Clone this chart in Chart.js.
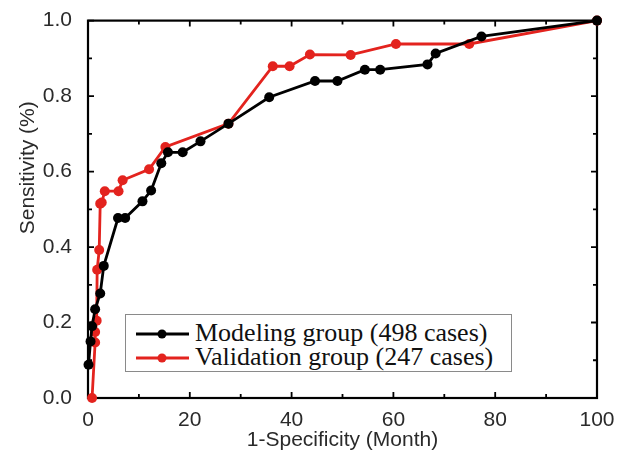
<!DOCTYPE html>
<html>
<head>
<meta charset="utf-8">
<script src="https://cdn.jsdelivr.net/npm/chart.js@4"></script>
<style>
    html, body { margin: 0; padding: 0; background: #fff; }
    #wrap { position: relative; width: 624px; height: 453px; }
    #legend {
        position: absolute; left: 125px; top: 314px; width: 387px; height: 58px;
        border: 1px solid #8a8a8a; background: #fff; box-sizing: border-box;
        font-family: "Liberation Serif", "Times New Roman", serif; font-size: 26px; color: #111;
    }
    .row { position: absolute; left: 0; height: 24px; line-height: 24px; white-space: nowrap; }
    .row svg { position: absolute; left: 10px; top: 6px; }
    .row span { position: absolute; left: 69px; top: -1px; }
</style>
</head>
<body>
<div id="wrap">
    <canvas id="chart" width="624" height="453"></canvas>
    <div id="legend">
        <div class="row" style="top:7px">
            <svg width="54" height="12"><line x1="0" y1="6" x2="53" y2="6" stroke="#000" stroke-width="2.8"/><circle cx="26" cy="6" r="4.5" fill="#000"/></svg>
            <span>Modeling group (498 cases)</span>
        </div>
        <div class="row" style="top:31px">
            <svg width="54" height="12"><line x1="0" y1="6" x2="53" y2="6" stroke="#e3231e" stroke-width="2.8"/><circle cx="26" cy="6" r="4.5" fill="#e3231e"/></svg>
            <span>Validation group (247 cases)</span>
        </div>
    </div>
</div>
<script>
// ── Datos ─────────────────────────────────────────────────
const modelingX = [0.1, 0.5, 0.8, 1.4, 2.4, 3.1, 5.9, 7.3, 10.7, 12.4, 14.4, 15.7, 18.6, 22.1, 27.6, 35.6, 44.6, 49.0, 54.4, 57.4, 66.7, 68.3, 77.3, 100];
const modelingY = [0.088, 0.15, 0.19, 0.235, 0.277, 0.35, 0.477, 0.477, 0.521, 0.55, 0.622, 0.651, 0.651, 0.68, 0.727, 0.797, 0.84, 0.84, 0.87, 0.87, 0.884, 0.913, 0.958, 1.0];

const validationX = [0.8, 1.4, 1.4, 1.7, 1.8, 2.2, 2.4, 2.7, 3.3, 6.0, 6.8, 12.0, 15.2, 27.6, 36.3, 39.6, 43.6, 51.6, 60.5, 74.9, 100];
const validationY = [0, 0.147, 0.175, 0.205, 0.34, 0.392, 0.515, 0.518, 0.548, 0.548, 0.577, 0.606, 0.665, 0.727, 0.879, 0.879, 0.91, 0.909, 0.938, 0.938, 1.0];

const xTicks = [0, 20, 40, 60, 80, 100];
const yTicks = [0, 0.2, 0.4, 0.6, 0.8, 1.0];

const toPoints = (xs, ys) => xs.map((x, i) => ({ x, y: ys[i] }));

const RED = "#e3231e";
const TEXT = "#2a2a2a";
const tickFont = { family: "Liberation Sans, Arial, sans-serif", size: 21 };

// marco y marcas interiores + título del eje Y (algo desplazado hacia arriba)
const framePlugin = {
    id: "frame",
    beforeDatasetsDraw(chart) {
        const { ctx, chartArea: a, scales } = chart;
        ctx.save();
        ctx.strokeStyle = "#000";
        ctx.lineWidth = 2.2;
        ctx.strokeRect(a.left, a.top, a.right - a.left, a.bottom - a.top);
        ctx.lineWidth = 1.8;
        ctx.beginPath();
        for (let v = 0; v <= 100; v += 10) {
            const px = scales.x.getPixelForValue(v);
            const len = v % 20 === 0 ? 6 : 4;
            ctx.moveTo(px, a.bottom); ctx.lineTo(px, a.bottom - len);
            ctx.moveTo(px, a.top); ctx.lineTo(px, a.top + len);
        }
        for (let i = 0; i <= 10; i++) {
            const py = scales.y.getPixelForValue(i / 10);
            const len = i % 2 === 0 ? 6 : 4;
            ctx.moveTo(a.left, py); ctx.lineTo(a.left + len, py);
            ctx.moveTo(a.right, py); ctx.lineTo(a.right - len, py);
        }
        ctx.stroke();

        ctx.translate(28, scales.y.getPixelForValue(0.61));
        ctx.rotate(-Math.PI / 2);
        ctx.fillStyle = TEXT;
        ctx.font = `${tickFont.size}px ${tickFont.family}`;
        ctx.textAlign = "center";
        ctx.textBaseline = "middle";
        ctx.fillText("Sensitivity (%)", 0, 0);
        ctx.restore();
    }
};

new Chart(document.getElementById("chart"), {
    type: "scatter",
    data: {
        datasets: [
            {
                label: "Modeling group (498 cases)",
                data: toPoints(modelingX, modelingY),
                showLine: true,
                borderColor: "#000",
                backgroundColor: "#000",
                borderWidth: 2.8,
                pointRadius: 5,
                pointBorderWidth: 0,
                clip: false
            },
            {
                label: "Validation group (247 cases)",
                data: toPoints(validationX, validationY),
                showLine: true,
                borderColor: RED,
                backgroundColor: RED,
                borderWidth: 2.8,
                pointRadius: 5,
                pointBorderWidth: 0,
                clip: false
            }
        ]
    },
    options: {
        responsive: false,
        animation: false,
        layout: { padding: { top: 20, right: 27, left: 0, bottom: 0 } },
        plugins: { legend: { display: false }, tooltip: { enabled: false } },
        scales: {
            x: {
                type: "linear",
                min: 0, max: 100,
                afterBuildTicks: s => { s.ticks = xTicks.map(v => ({ value: v })); },
                afterFit: s => { s.height = 55; },
                grid: { display: false },
                border: { display: false },
                ticks: { color: TEXT, font: tickFont, padding: 2, maxRotation: 0 },
                title: { display: true, text: "1-Specificity (Month)", color: TEXT, font: tickFont, padding: { top: 0, bottom: 0 } }
            },
            y: {
                type: "linear",
                min: 0, max: 1,
                afterBuildTicks: s => { s.ticks = yTicks.map(v => ({ value: v })); },
                afterFit: s => { s.width = 88; },
                grid: { display: false },
                border: { display: false },
                ticks: { color: TEXT, font: tickFont, padding: 8, callback: v => v.toFixed(1) }
            }
        }
    },
    plugins: [framePlugin]
});
</script>
</body>
</html>
